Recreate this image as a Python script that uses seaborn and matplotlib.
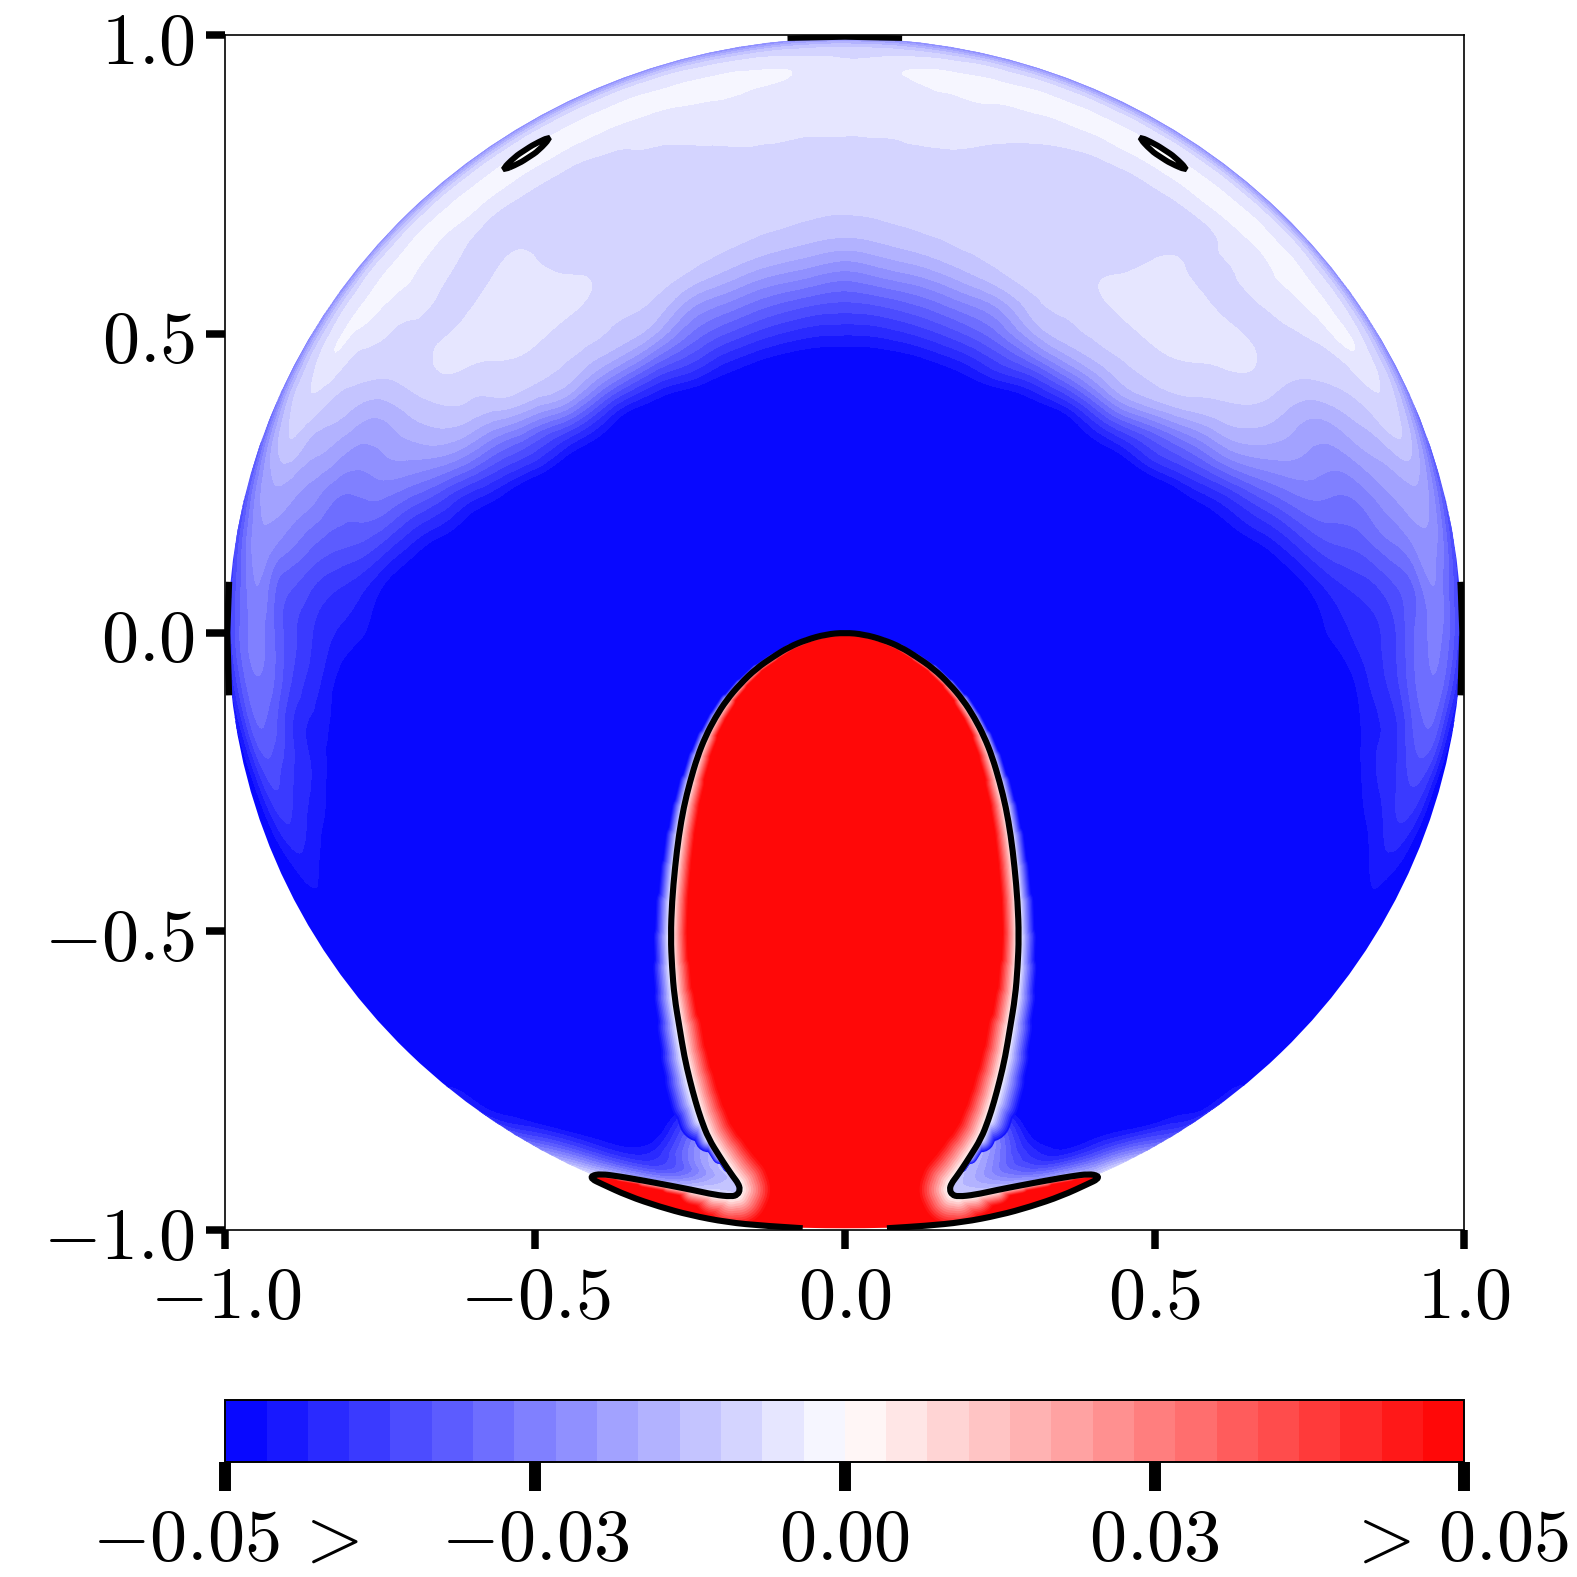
import numpy as np
import matplotlib
matplotlib.use('Agg')
import matplotlib.pyplot as plt
import matplotlib.tri as mtri
from matplotlib.patches import Circle, PathPatch
from matplotlib.path import Path
from matplotlib.transforms import ScaledTranslation
import seaborn as sns

# -----------------------------
# Data (field in units of 1e-3)
# -----------------------------
r_grid = [.45, .5, .55, .6, .65, .7, .75, .8, .85, .9, .925, .95, .97, .985, 1.0]
theta_deg = [0, 5, 10, 15, 20, 25, 30, 35, 40, 45, 50, 55, 60, 65, 70, 75, 80, 85, 90, 95,
             100, 105, 110, 115, 120, 130, 140, 145, 150, 155, 160, 165, 170, 180]
field_rows = [
    [-52, -43, -34, -24.5, -15, -10, -8.6, -7.3, -6, -4.8, -5, -5.6, -7.5, -13, -32],
    [-52, -43, -33.5, -23, -14, -9.7, -8.5, -7.3, -6, -4.5, -4.1, -3.9, -7, -13, -32],
    [-52, -42.5, -32.5, -22, -13, -9.3, -8.3, -7.2, -5.8, -3.8, -3, -2.9, -6, -13, -32],
    [-52, -42, -31.5, -21, -12, -9, -8.2, -7.5, -6.4, -3.9, -2.9, -2.7, -5.5, -12, -32],
    [-51.5, -41.5, -30.5, -20, -11, -9, -8.5, -8, -7.5, -5, -3.2, -2.6, -5, -12, -32],
    [-51.5, -41, -29.5, -19, -10, -9, -8.5, -8, -7.6, -6, -3.4, -2.6, -5, -12, -32],
    [-54, -40.7, -27.7, -14.5, -9.5, -8.8, -8.3, -8, -7.6, -6.4, -3.4, -2.6, -5, -12, -32],
    [-56, -44, -28, -13.3, -9.5, -7, -7.3, -7.8, -7.7, -6.5, -3.5, -2.6, -5, -12, -32],
    [-58, -46.7, -30, -14.5, -9, -6.3, -5.8, -6.3, -7.3, -6.6, -3.4, -2.6, -5, -12, -32],
    [-60, -50, -33, -15.5, -9.3, -6.3, -5.6, -6.2, -7.5, -5.5, -3.5, -2.6, -5, -12, -32],
    [-60, -50, -36, -18, -10, -7, -5.9, -6.2, -7.6, -4, -2.9, -2.7, -5.5, -12, -33],
    [-62, -54, -42, -28, -14.5, -9.5, -7.3, -6.3, -7.8, -5.8, -3.5, -3, -6, -13, -33],
    [-64, -60, -46.7, -35, -24, -14, -10.5, -10, -10, -8, -6, -3.3, -7, -14, -34],
    [-66, -65, -55, -43, -32, -21, -16.5, -16.7, -16.5, -11.5, -9, -6.7, -9, -16, -35],
    [-68, -66, -60, -50, -42, -32, -24.5, -22, -21.5, -16, -13.5, -10, -13, -21, -38],
    [-70, -68, -64, -57, -48, -41, -33, -28, -27, -21, -18.5, -16.7, -19, -26, -40],
    [-70, -70, -68, -62, -56, -48.5, -41, -34.5, -31.5, -26, -23, -20.5, -23, -30, -41],
    [-70, -70, -70, -66, -60, -54, -47.5, -41.5, -38, -32.7, -29, -23.3, -27, -33, -42],
    [-70, -70, -70, -68, -64, -58, -50, -44.7, -41, -34.5, -29, -25.8, -28, -34, -43],
    [-70, -70, -70, -70, -64, -60, -55, -50, -43, -36, -30, -27, -30, -37, -46],
    [-70, -70, -70, -70, -70, -66, -60, -55, -46, -41, -35, -30.5, -33.5, -42, -50],
    [-70, -70, -70, -70, -70, -70, -65, -58, -49, -42.5, -39.5, -36, -39, -46, -53],
    [-70, -70, -70, -70, -70, -70, -68, -62, -54, -46, -43.3, -40.5, -43, -48, -55],
    [-70, -70, -70, -70, -70, -70, -70, -66, -60, -51, -48, -45.5, -47, -50, -56],
    [-70, -70, -70, -70, -70, -70, -70, -70, -66, -56, -54, -50, -50, -53, -58],
    [-70, -70, -70, -70, -70, -70, -70, -70, -70, -62, -60, -58, -56, -54, -54],
    [-70, -70, -70, -70, -70, -70, -70, -70, -70, -62, -60, -56, -52, -48, -46],
    [-70, -70, -70, -70, -70, -70, -70, -70, -70, -62, -58, -55, -49, -46, -38],
    [-70, -70, -70, -70, -70, -70, -70, -70, -70, -60, -56, -49, -40, -32, -22],
    [-70, -70, -70, -70, -70, -70, -70, -70, -66, -55, -50, -42, -30, -18, -4],
    [-70, -70, -70, -70, -70, -70, -70, -70, -55, -48, -44, -36, -20, -8, -2],
    [-70, -70, -70, -70, -70, -70, -70, -53, -30, -20, -24, -20, -8, -4, -2],
    [-70, -70, -70, -70, -70, -70, -70, -50, -40, -12, -12, -12, -8, -4, -2],
    [-70, -70, -70, -70, -70, -70, -70, -50, -40, -12, -12, -12, -8, -4, -2],
]

# right half of the zero contour, apex to bottom arc
blob_x = [0, .031, .062, .09, .115, .143, .169, .191, .209, .225, .238, .25, .26, .268, .274, .279,
          .281, .279, .275, .267, .259, .25, .241, .232, .22, .202, .19, .18, .172, .169, .173, .183,
          .21, .245, .285, .326, .365, .394, .409, .408, .394, .35, .299, .25, .19, .13, .068]
blob_y = [0, -.003, -.012, -.024, -.04, -.06, -.086, -.113, -.142, -.174, -.208, -.25, -.292, -.34,
          -.392, -.45, -.509, -.56, -.61, -.66, -.71, -.75, -.785, -.815, -.847, -.877, -.896, -.911,
          -.922, -.932, -.941, -.944, -.941, -.933, -.925, -.917, -.91, -.906, -.909, -.915, -.922,
          -.943, -.961, -.975, -.987, -.993, -.997]
loop_x = [.556, .5324, .5169, .5014, .472, .4946, .5101, .5256]
loop_y = [.772, .7967, .8072, .8177, .832, .8063, .7958, .7853]
top_mark_x = [-.0925, 0, .0925]
top_mark_y = [.995, .997, .995]
side_mark_x = [.994, .997, .994]
side_mark_y = [.085, 0, -.105]

levels = np.linspace(-0.05, 0.05, 31)
cb_ticks = [-0.05, -0.025, 0, 0.025, 0.05]
cb_labels = [r'$-0.05\,>$', r'$-0.03$', r'$0.00$', r'$0.03$', r'$>\,0.05$']
ax_ticks = [-1, -0.5, 0, 0.5, 1]
ax_labels = [r'$-1.0$', r'$-0.5$', r'$0.0$', r'$0.5$', r'$1.0$']

# -----------------------------
# Style
# -----------------------------
sns.set_theme(style='ticks')
plt.rcParams['mathtext.fontset'] = 'cm'
FS = 53.5
cmap = plt.get_cmap('bwr')
norm = plt.Normalize(-0.05, 0.05)
BLUE = cmap(norm(-0.0483))
RED = cmap(norm(0.0483))

fig = plt.figure(figsize=(15.77, 15.77), dpi=100)
ax = fig.add_axes([0.14286, 0.22, 0.7857, 0.7577])
cax = fig.add_axes([0.14286, 0.0727, 0.7857, 0.0395])

# -----------------------------
# Field on the disk: polar table mirrored about x=0, refined by matplotlib
# -----------------------------
rows = np.array(field_rows) / 1000.0
th = np.radians(theta_deg)
th_full = np.concatenate([-th[::-1], th[1:-1]])
z_full = np.vstack([rows[::-1], rows[1:-1]])
rr, tt = np.meshgrid(r_grid, th_full)
n_t, n_r = rr.shape
tris = []
for i in range(n_t):
    k = (i + 1) % n_t
    for j in range(n_r - 1):
        a, b, c, d = i * n_r + j, i * n_r + j + 1, k * n_r + j, k * n_r + j + 1
        tris += [[a, b, d], [a, d, c]]
tri = mtri.Triangulation((rr * np.sin(tt)).ravel(), (rr * np.cos(tt)).ravel(), tris)
interp = mtri.CubicTriInterpolator(tri, z_full.ravel(), kind='min_E')
tri_f, z_f = mtri.UniformTriRefiner(tri).refine_field(z_full.ravel(), interp, subdiv=3)
z_f = np.clip(z_f, -0.0499, 0.0499)

ax.add_patch(Circle((0, 0), 0.6, fc=BLUE, ec='none', zorder=0.5))
cf = ax.tricontourf(tri_f, z_f, levels=levels, cmap=cmap, norm=norm, zorder=1)
disk = Circle((0, 0), 0.995, transform=ax.transData)
cf.set_clip_path(disk)


def curve(xs, ys, closed=False):
    # read points act as quadratic control points, so matplotlib draws a smooth curve
    pts = np.column_stack([xs, ys])
    if closed:
        mids = 0.5 * (pts + np.roll(pts, -1, axis=0))
        verts = [mids[-1]]
        codes = [Path.MOVETO]
        for p, m in zip(pts, mids):
            verts += [p, m]
            codes += [Path.CURVE3, Path.CURVE3]
    else:
        verts = [pts[0]]
        codes = [Path.MOVETO]
        for i in range(1, len(pts) - 1):
            verts += [pts[i], 0.5 * (pts[i] + pts[i + 1])]
            codes += [Path.CURVE3, Path.CURVE3]
        verts.append(pts[-1])
        codes.append(Path.LINETO)
    return Path(verts, codes)


# -----------------------------
# Red blob with its halo
# -----------------------------
hx = np.array(blob_x)
hy = np.array(blob_y)
line_x = np.concatenate([-hx[::-1], hx[1:]])
line_y = np.concatenate([hy[::-1], hy[1:]])

idx = np.arange(len(hx))
inner = np.interp(-hy, [0, .1, .2, .3, .55, .7, .85, .93], [3, 7, 12, 15, 16, 22, 26, 30])
inner[idx >= 31] = np.interp(hx[idx >= 31], [.18, .25, .4], [26, 8, 3])
inner[idx >= 38] = 0
outer = np.interp(-hy, [0, .1, .3, .5, .7, .78, .82, .85, .87], [2, 5, 11, 16, 22, 26, 18, 9, 4])
outer[idx >= 27] = 0
ripple = np.where(idx % 2 == 0, 1.18, 0.82)
ripple[hy > -.12] = 1
inner_full = np.concatenate([(inner * ripple)[::-1], (inner * ripple)[1:]]) / 1.389
outer_full = np.concatenate([(outer * ripple)[::-1], (outer * ripple)[1:]]) / 1.389


def stroke(widths, shades, clip, zorder):
    for frac, shade in zip(np.linspace(2, 0.25, len(shades)), shades):
        for i in range(len(line_x) - 1):
            w = 0.5 * (widths[i] + widths[i + 1]) * frac
            if w > 0:
                seg, = ax.plot(line_x[i:i + 2], line_y[i:i + 2], color=cmap(norm(shade)), lw=w,
                               solid_capstyle='round', zorder=zorder)
                seg.set_clip_path(clip)


stroke(outer_full, np.linspace(-.046, -.002, 12), disk, 3)
blob = PathPatch(curve(line_x, line_y, closed=True), fc=RED, ec='none', zorder=4)
ax.add_patch(blob)
stroke(inner_full, np.linspace(.046, .002, 12), blob, 5)

# -----------------------------
# Zero contour lines
# -----------------------------
ax.add_patch(PathPatch(curve(line_x, line_y), fc='none', ec='black', lw=4.4, zorder=6))
for sign in [-1, 1]:
    ax.add_patch(PathPatch(curve(sign * np.array(loop_x), loop_y, closed=True),
                           fc='white', ec='black', lw=4.2, zorder=6))
    sns.lineplot(x=sign * np.array(side_mark_x), y=side_mark_y, color='black', lw=4.6, estimator=None,
                 sort=False, legend=False, ax=ax, zorder=6, solid_capstyle='butt')
sns.lineplot(x=top_mark_x, y=top_mark_y, color='black', lw=4.0, estimator=None, sort=False,
             legend=False, ax=ax, zorder=6, solid_capstyle='butt')

# -----------------------------
# Axes
# -----------------------------
ax.set_xlim(-1, 1)
ax.set_ylim(-1, 1)
ax.set_xticks(ax_ticks)
ax.set_yticks(ax_ticks)
ax.set_xticklabels(ax_labels, fontsize=FS)
ax.set_yticklabels(ax_labels, fontsize=FS)
ax.tick_params(axis='both', length=14, width=5.4, color='black', labelcolor='black', pad=8)
for s in ax.spines.values():
    s.set_linewidth(1.2)
    s.set_color('black')
    s.set_visible(True)

cb = fig.colorbar(cf, cax=cax, orientation='horizontal', ticks=cb_ticks)
cb.ax.set_xticklabels(cb_labels, fontsize=FS)
cb.ax.tick_params(length=21, width=8.6, color='black', labelcolor='black', pad=8)
cb.outline.set_linewidth(1.4)
cb.outline.set_edgecolor('black')
last = cb.ax.get_xticklabels()[-1]
last.set_transform(last.get_transform() + ScaledTranslation(-0.08, 0, fig.dpi_scale_trans))

plt.savefig('out.png', dpi=100)
plt.close()
